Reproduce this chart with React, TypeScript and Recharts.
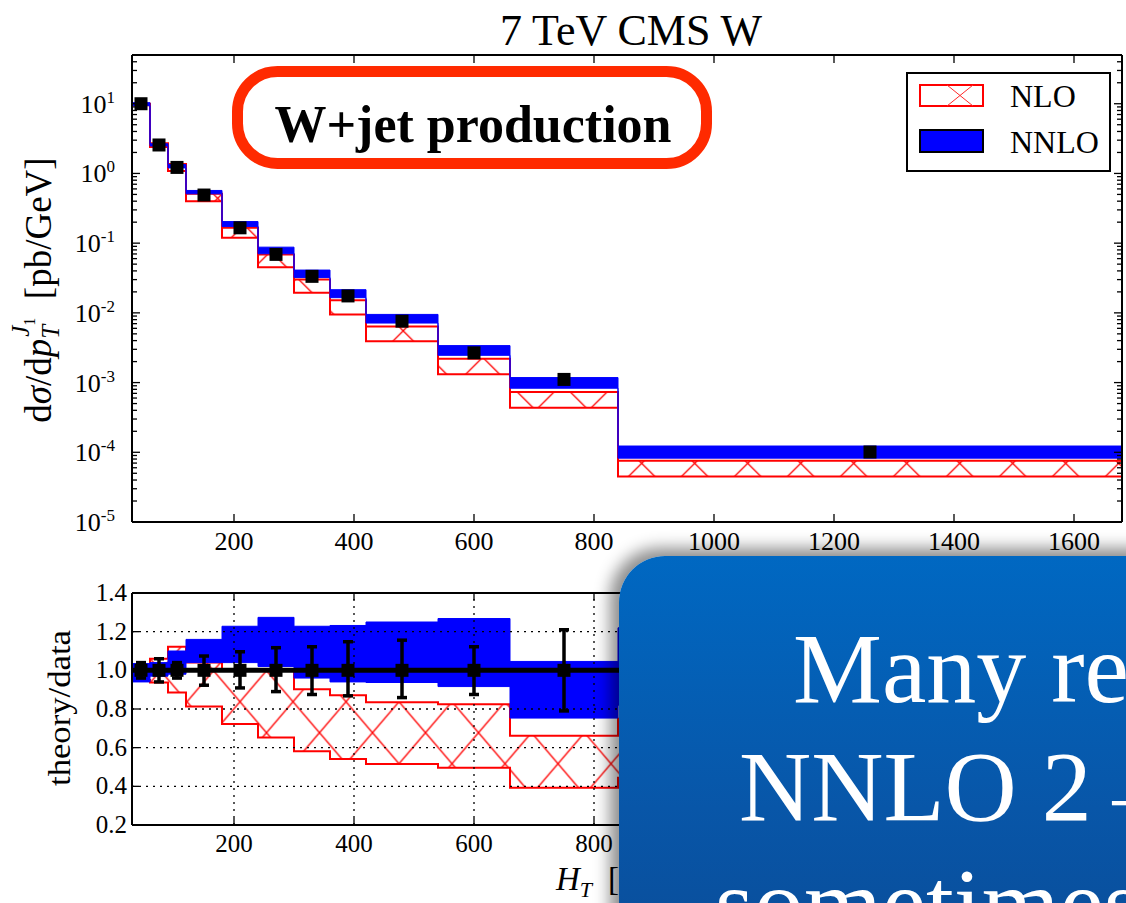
import React from 'react';
import { ComposedChart, Area, Scatter, Line, XAxis, YAxis, ErrorBar, ReferenceLine } from 'recharts';

const FONT = '"Liberation Serif", "Times New Roman", "DejaVu Serif", serif';

// ---------- data ----------
const binEdges = [30, 60, 90, 120, 180, 240, 300, 360, 420, 540, 660, 840, 1680];
const binCenters = [45, 75, 105, 150, 210, 270, 330, 390, 480, 600, 750, 1260];
const dataXsec = [10.0, 2.56, 1.22, 0.49, 0.166, 0.069, 0.0334, 0.0175, 0.0076, 0.00267, 0.00111, 0.000101];

const nloLow = [9.5, 2.4, 1.08, 0.398, 0.12, 0.0451, 0.0194, 0.00949, 0.00392, 0.00132, 0.000436, 0.0000449];
const nloHigh = [10.0, 2.71, 1.37, 0.51, 0.166, 0.069, 0.0301, 0.0152, 0.00635, 0.0022, 0.000735, 0.0000758];
const nnloLow = [9.4, 2.48, 1.2, 0.51, 0.173, 0.0704, 0.0321, 0.0165, 0.00714, 0.00246, 0.00083, 0.0000824];
const nnloHigh = [10.35, 2.66, 1.34, 0.57, 0.204, 0.0876, 0.0411, 0.0215, 0.0095, 0.00339, 0.00118, 0.000123];

const ratioNloLow = [0.95, 0.937, 0.885, 0.813, 0.722, 0.653, 0.581, 0.542, 0.516, 0.496, 0.393, 0.445];
const ratioNloHigh = [1.0, 1.06, 1.122, 1.04, 1.0, 1.0, 0.902, 0.871, 0.835, 0.825, 0.662, 0.75];
const ratioNnloLow = [0.94, 0.97, 0.98, 1.04, 1.04, 1.02, 0.96, 0.94, 0.937, 0.916, 0.753, 0.82];
const ratioNnloHigh = [1.035, 1.04, 1.1, 1.16, 1.228, 1.274, 1.228, 1.232, 1.25, 1.268, 1.046, 1.22];
const dataRatio = [1, 1, 1, 1, 1, 1, 1, 1, 1, 1, 1, 1];
const errMinus = [0.04, 0.06, 0.04, 0.077, 0.091, 0.11, 0.125, 0.132, 0.141, 0.125, 0.21, 0.2];
const errPlus = [0.04, 0.06, 0.04, 0.074, 0.096, 0.117, 0.122, 0.148, 0.156, 0.122, 0.21, 0.2];

const xTicks = [200, 400, 600, 800, 1000, 1200, 1400, 1600];
const logTicks = [1e-5, 1e-4, 1e-3, 1e-2, 1e-1, 1, 10];
const logTickExp = ['-5', '-4', '-3', '-2', '-1', '0', '1'];
const ratioTicks = [0.2, 0.4, 0.6, 0.8, 1.0, 1.2, 1.4];
const ratioTickLabels = ['0.2', '0.4', '0.6', '0.8', '1.0', '1.2', '1.4'];
const ratioGrid = [0.4, 0.6, 0.8, 1.0, 1.2];

const logMinor: number[] = [];
for (let e = -5; e <= 1; e++) {
  for (let m = 2; m <= 9; m++) {
    const v = m * Math.pow(10, e);
    if (v <= 50) logMinor.push(v);
  }
}

// ---------- tables ----------
const last = binCenters.length - 1;
const topRows = binEdges.map((x, i) => {
  const j = Math.min(i, last);
  return { x, nlo: [nloLow[j], nloHigh[j]], nnlo: [nnloLow[j], nnloHigh[j]] };
});
const botRows = binEdges.map((x, i) => {
  const j = Math.min(i, last);
  return {
    x,
    nlo: [ratioNloLow[j], ratioNloHigh[j]],
    nnlo: [ratioNnloLow[j], ratioNnloHigh[j]],
    one: dataRatio[j],
  };
});
const topPoints = binCenters.map((x, i) => ({ x, y: dataXsec[i] }));
const botPoints = binCenters.map((x, i) => ({ x, y: dataRatio[i], err: [errMinus[i], errPlus[i]] }));

// ---------- ticks ----------
const AX = { stroke: '#000', strokeWidth: 2 };
const TL = { stroke: '#000', strokeWidth: 1.3 };
const OVERLAY_LEFT = 619;
const Empty = () => <g />;

const TopXTick = (p: any) => (
  <text x={p.x} y={p.y + 28} textAnchor="middle" fontSize={26} fontFamily={FONT} fill="#000">
    {p.payload.value}
  </text>
);
const TopYTick = (p: any) => {
  const idx = logTicks.findIndex((t) => Math.abs(Math.log10(t) - Math.log10(p.payload.value)) < 1e-6);
  return (
    <text x={p.x - 17} y={p.y + 9} textAnchor="end" fontSize={26} fontFamily={FONT} fill="#000">
      <tspan>10</tspan>
      <tspan dy={-10} fontSize={17}>{logTickExp[idx]}</tspan>
    </text>
  );
};
// labels that sit under the slide's overlay box are not visible in the reference
const BotXTick = (p: any) =>
  p.x > OVERLAY_LEFT ? (
    <g />
  ) : (
    <text x={p.x} y={p.y + 27} textAnchor="middle" fontSize={25} fontFamily={FONT} fill="#000">
      {p.payload.value}
    </text>
  );
const BotYTick = (p: any) => {
  const idx = ratioTicks.findIndex((t) => Math.abs(t - p.payload.value) < 1e-6);
  return (
    <text x={p.x - 5} y={p.y + 8} textAnchor="end" fontSize={25} fontFamily={FONT} fill="#000">
      {ratioTickLabels[idx]}
    </text>
  );
};

const Square = (p: any) =>
  p.cx == null ? <g /> : <rect x={p.cx - 6.5} y={p.cy - 6.5} width={13} height={13} fill="#000" />;

const TopChart = () => (
  <ComposedChart width={1126} height={562} data={topRows} margin={{ top: 55, right: 4, bottom: 0, left: 0 }}>
    <XAxis dataKey="x" type="number" domain={[30, 1680]} allowDataOverflow ticks={xTicks} interval={0}
      height={40} tickSize={0} tickMargin={0} tickLine={false} axisLine={AX} tick={TopXTick} />
    <XAxis xAxisId="top" dataKey="x" type="number" orientation="top" mirror domain={[30, 1680]} allowDataOverflow
      ticks={xTicks} interval={0} tickSize={8} tickLine={TL} axisLine={AX} tick={Empty} />
    <XAxis xAxisId="bin" dataKey="x" type="number" mirror domain={[30, 1680]} allowDataOverflow
      ticks={xTicks} interval={0} tickSize={8} tickLine={TL} axisLine={false} tick={Empty} />
    <YAxis type="number" scale="log" domain={[1e-5, 50]} allowDataOverflow ticks={logTicks} interval={0}
      width={132} tickSize={0} tickMargin={0} tickLine={false} axisLine={AX} tick={TopYTick} />
    <YAxis yAxisId="lmaj" type="number" scale="log" mirror width={1} domain={[1e-5, 50]} allowDataOverflow ticks={logTicks}
      interval={0} tickSize={8} tickLine={TL} axisLine={false} tick={Empty} />
    <YAxis yAxisId="lmin" type="number" scale="log" mirror width={1} domain={[1e-5, 50]} allowDataOverflow ticks={logMinor}
      interval={0} tickSize={4} tickLine={TL} axisLine={false} tick={Empty} />
    <YAxis yAxisId="rmaj" orientation="right" type="number" scale="log" mirror width={1} domain={[1e-5, 50]} allowDataOverflow
      ticks={logTicks} interval={0} tickSize={8} tickLine={TL} axisLine={AX} tick={Empty} />
    <YAxis yAxisId="rmin" orientation="right" type="number" scale="log" mirror width={1} domain={[1e-5, 50]} allowDataOverflow
      ticks={logMinor} interval={0} tickSize={4} tickLine={TL} axisLine={false} tick={Empty} />
    <Area dataKey="nlo" type="stepAfter" fill="url(#hatchTop)" fillOpacity={1} stroke="#ff0000" strokeWidth={2}
      isAnimationActive={false} />
    <Area dataKey="nnlo" type="stepAfter" fill="#0000ff" fillOpacity={1} stroke="#0000ff" strokeWidth={1}
      isAnimationActive={false} />
    <Scatter data={topPoints} dataKey="y" shape={Square} isAnimationActive={false} />
  </ComposedChart>
);

const BotChart = () => (
  <ComposedChart width={1126} height={343} data={botRows} margin={{ top: 33, right: 4, bottom: 38, left: 0 }}>
    <XAxis dataKey="x" type="number" domain={[30, 1680]} allowDataOverflow ticks={xTicks} interval={0}
      height={40} tickSize={0} tickMargin={0} tickLine={false} axisLine={AX} tick={BotXTick} />
    <XAxis xAxisId="top" dataKey="x" type="number" orientation="top" mirror domain={[30, 1680]} allowDataOverflow
      ticks={xTicks} interval={0} tickSize={7} tickLine={TL} axisLine={AX} tick={Empty} />
    <XAxis xAxisId="bin" dataKey="x" type="number" mirror domain={[30, 1680]} allowDataOverflow
      ticks={xTicks} interval={0} tickSize={7} tickLine={TL} axisLine={false} tick={Empty} />
    <YAxis type="number" domain={[0.2, 1.4]} allowDataOverflow ticks={ratioTicks} interval={0}
      width={132} tickSize={0} tickMargin={0} tickLine={false} axisLine={AX} tick={BotYTick} />
    <YAxis yAxisId="lmaj" type="number" mirror width={1} domain={[0.2, 1.4]} allowDataOverflow ticks={ratioTicks}
      interval={0} tickSize={7} tickLine={TL} axisLine={false} tick={Empty} />
    <YAxis yAxisId="rmaj" orientation="right" type="number" mirror width={1} domain={[0.2, 1.4]} allowDataOverflow
      ticks={ratioTicks} interval={0} tickSize={7} tickLine={TL} axisLine={AX} tick={Empty} />
    <Area dataKey="nlo" type="stepAfter" fill="url(#hatchBot)" fillOpacity={1} stroke="#ff0000" strokeWidth={2}
      isAnimationActive={false} />
    <Area dataKey="nnlo" type="stepAfter" fill="#0000ff" fillOpacity={1} stroke="#0000ff" strokeWidth={1}
      isAnimationActive={false} />
    {xTicks.map((v) => (
      <ReferenceLine key={'gx' + v} x={v} stroke="#000" strokeWidth={1.3} strokeDasharray="2 5" />
    ))}
    {ratioGrid.map((v) => (
      <ReferenceLine key={'gy' + v} y={v} stroke="#000" strokeWidth={1.3} strokeDasharray="2 5" />
    ))}
    <Line dataKey="one" type="stepAfter" stroke="#000" strokeWidth={5} dot={false} isAnimationActive={false} />
    <Scatter data={botPoints} dataKey="y" shape={Square} isAnimationActive={false}>
      <ErrorBar dataKey="err" direction="y" width={5} stroke="#000" strokeWidth={3.5} />
    </Scatter>
  </ComposedChart>
);

export default function App() {
  return (
    <div style={{ position: 'fixed', left: 0, top: 0, width: 1126, height: 903, overflow: 'hidden', background: '#fff', fontFamily: FONT }}>
      <svg width={0} height={0} style={{ position: 'absolute', left: 0, top: 0 }}>
        <defs>
          <pattern id="hatchTop" patternUnits="userSpaceOnUse" x={-20.8} y={436.8} width={53} height={53}>
            <path d="M0,0 L53,53 M53,0 L0,53" stroke="#ff0000" strokeWidth={1.3} fill="none" />
          </pattern>
          <pattern id="hatchBot" patternUnits="userSpaceOnUse" x={1.5} y={110.7} width={53} height={62}>
            <path d="M0,0 L53,62 M53,0 L0,62" stroke="#ff0000" strokeWidth={1.4} fill="none" />
          </pattern>
        </defs>
      </svg>

      <div style={{ position: 'absolute', left: 0, top: 0 }}>
        <TopChart />
      </div>
      <div style={{ position: 'absolute', left: 0, top: 560 }}>
        <BotChart />
      </div>

      <svg width={1126} height={903} style={{ position: 'absolute', left: 0, top: 0, pointerEvents: 'none' }} fontFamily={FONT}>
        <text x={631} y={45} textAnchor="middle" fontSize={44} fill="#000">7 TeV CMS W</text>

        <rect x={237.5} y={71.5} width={469} height={92} rx={40} ry={40} fill="#fff" stroke="#ff2a00" strokeWidth={11} />
        <text x={473} y={141.5} textAnchor="middle" fontSize={52} fontWeight="bold" fill="#000">W+jet production</text>

        <rect x={907} y={73} width={203} height={98} fill="#fff" stroke="#000" strokeWidth={2} />
        <rect x={920} y={85} width={63} height={21} fill="#fff" stroke="#ff0000" strokeWidth={2} />
        <path d="M947,106 L973,85 M947,85 L973,106" stroke="#ff2a2a" strokeWidth={1} />
        <rect x={920} y={130} width={63} height={22} fill="#0000ff" stroke="#000" strokeWidth={2} />
        <text x={1010} y={107} fontSize={32} fill="#000">NLO</text>
        <text x={1010} y={153} fontSize={32} fill="#000">NNLO</text>

        <text transform="translate(51,290) rotate(-90)" textAnchor="middle" fontSize={37} fill="#000">
          <tspan>d</tspan>
          <tspan fontStyle="italic">σ</tspan>
          <tspan>/d</tspan>
          <tspan fontStyle="italic">p</tspan>
          <tspan fontStyle="italic" fontSize={25} dy={8}>T</tspan>
          <tspan fontStyle="italic" fontSize={25} dx={-12} dy={-30}>J</tspan>
          <tspan fontSize={16} dy={6}>1</tspan>
          <tspan dy={16}>{'\u00A0\u00A0[pb/GeV]'}</tspan>
        </text>

        <text transform="translate(70,708) rotate(-90)" textAnchor="middle" fontSize={31} fill="#000"
          textLength={156} lengthAdjust="spacingAndGlyphs">theory/data</text>

        <text x={556} y={890} fontSize={33} fill="#000">
          <tspan fontStyle="italic">H</tspan>
          <tspan fontStyle="italic" fontSize={22} dy={7}>T</tspan>
          <tspan dx={16} dy={-7}>{'[GeV]'}</tspan>
        </text>
      </svg>

      <div
        style={{
          position: 'absolute',
          left: OVERLAY_LEFT,
          top: 556,
          width: 640,
          height: 420,
          borderTopLeftRadius: 46,
          background: 'linear-gradient(180deg, #0068c2 0%, #0856a8 60%, #0a4c98 100%)',
          boxShadow: '-5px -4px 16px 4px rgba(0,0,0,0.45)',
          overflow: 'hidden',
        }}
      >
        <svg width={640} height={420} fontFamily={FONT}>
          <text x={174} y={146} fontSize={100} fill="#fff">Many recent</text>
          <text x={120} y={264} fontSize={100} fill="#fff">NNLO 2→2</text>
          <text x={96} y={381} fontSize={100} fill="#fff">sometimes</text>
        </svg>
      </div>
    </div>
  );
}
